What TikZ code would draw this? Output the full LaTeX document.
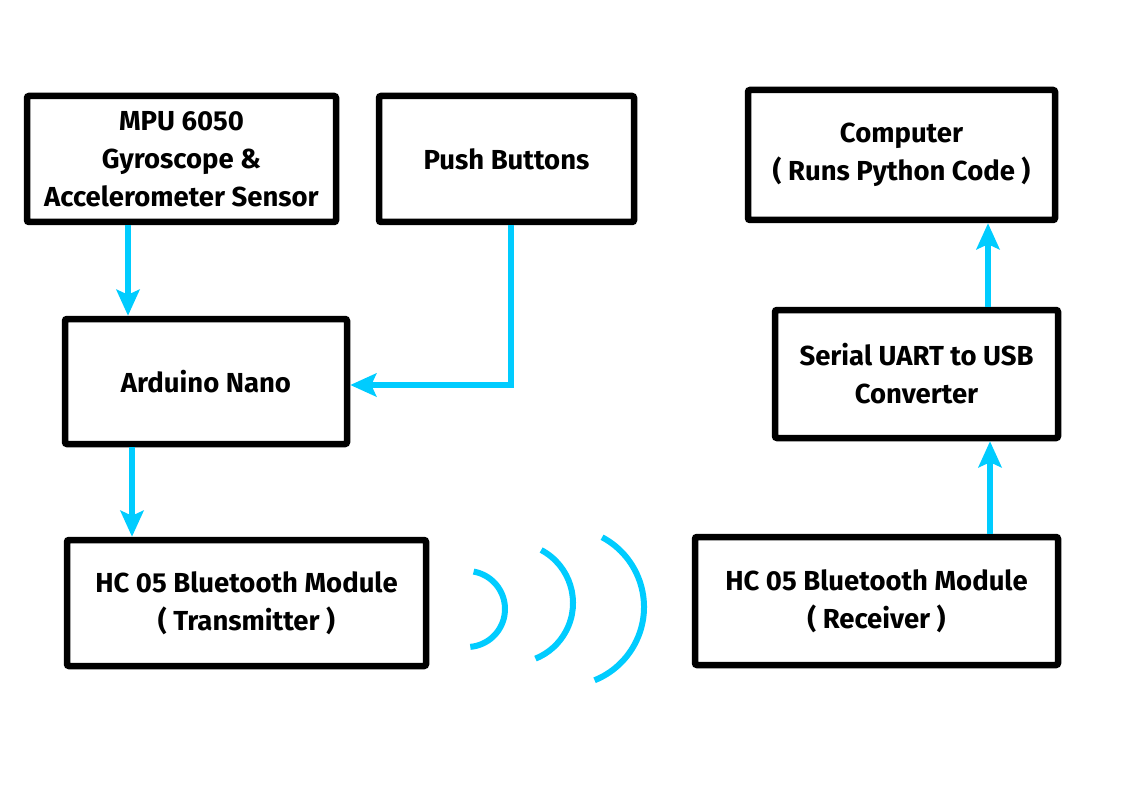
\documentclass[tikz,border=0pt]{standalone}
\usepackage{fontspec}
\setmainfont{Fira Sans}
\usetikzlibrary{arrows.meta}
\definecolor{wire}{RGB}{0,204,255}
\tikzset{
  blk/.style={draw=black, line width=6.5pt, rounded corners=2pt, fill=white,
    align=center, font=\fontsize{27.5}{38}\selectfont\bfseries, inner sep=0pt},
  arr/.style={draw=wire, line width=6pt, -{Stealth[length=26pt,width=23pt,inset=5pt]}},
  wave/.style={draw=wire, line width=6pt}
}
\begin{document}
\begin{tikzpicture}[x=1pt,y=-1pt]
\useasboundingbox[fill=white] (0,0) rectangle (1123,794);
\node[blk, minimum width=309pt, minimum height=126pt] (mpu) at (181.5,159) {MPU 6050\\Gyroscope \&\\Accelerometer Sensor};
\node[blk, minimum width=255pt, minimum height=126pt] (push) at (506.5,159) {Push Buttons};
\node[blk, minimum width=307pt, minimum height=130pt] (comp) at (901.5,155) {Computer\\( Runs Python Code )};
\node[blk, minimum width=282pt, minimum height=125pt] (ard) at (206,381.5) {Arduino Nano};
\node[blk, minimum width=283pt, minimum height=128pt] (uart) at (916.5,374) {Serial UART to USB\\Converter};
\node[blk, minimum width=359pt, minimum height=126pt] (tx) at (246.5,603) {HC 05 Bluetooth Module\\( Transmitter )};
\node[blk, minimum width=363pt, minimum height=128pt] (rx) at (876.5,601) {HC 05 Bluetooth Module\\( Receiver )};
% connectors
\draw[arr] ([xshift=-53.5pt]mpu.south) coordinate (a1) -- (a1 |- ard.north);
\draw[arr] ([xshift=4.5pt]push.south) |- ([yshift=-3.5pt]ard.east);
\draw[arr] ([xshift=-74pt]ard.south) coordinate (a2) -- (a2 |- tx.north);
\draw[arr] ([xshift=113.5pt]rx.north) coordinate (a3) -- (a3 |- uart.south);
\draw[arr] ([xshift=71.5pt]uart.north) coordinate (a4) -- (a4 |- comp.south);
% waves
\draw[wave] (467,609) ++(-80:38) arc[start angle=-80, end angle=85, radius=38];
\draw[wave] (513,603) ++(-62:60) arc[start angle=-62, end angle=68, radius=60];
\draw[wave] (565,607) ++(-62:79) arc[start angle=-62, end angle=68, radius=79];
\end{tikzpicture}
\end{document}
